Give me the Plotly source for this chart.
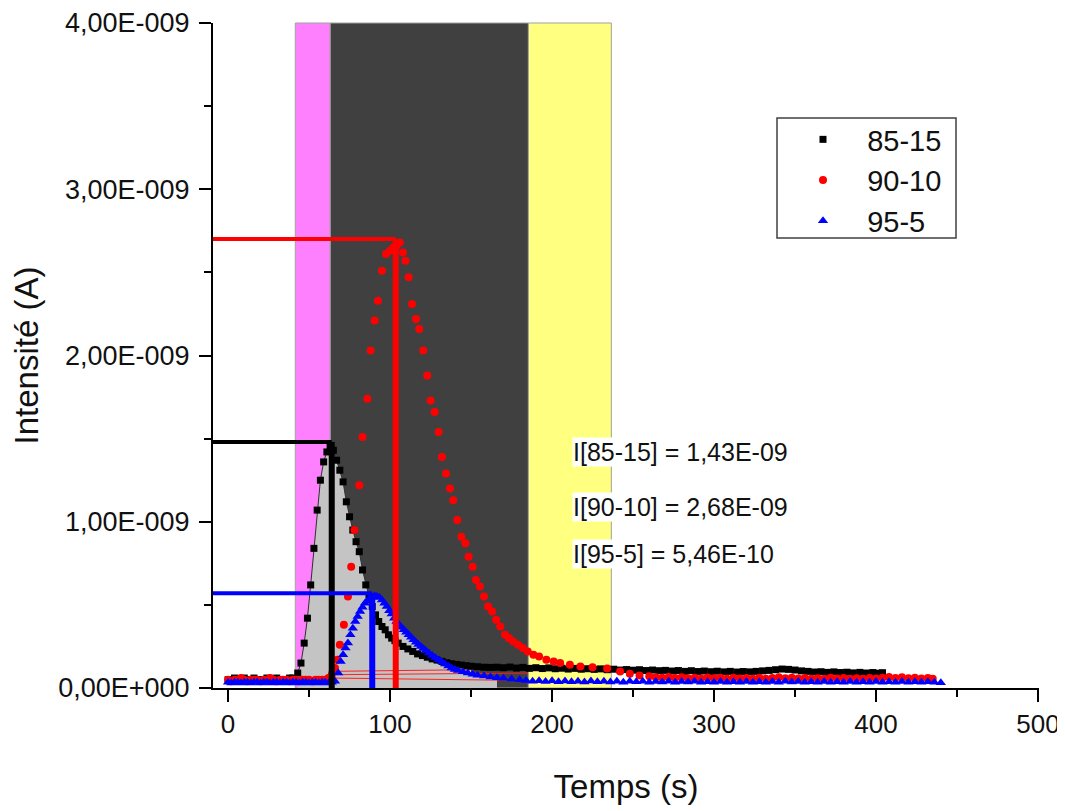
import plotly.graph_objects as go

# ---------------- data (current in units of 1E-9 A, time in s) ----------------
black_pts = [
    (0, .05), (2, .05), (4, .06), (6, .05), (8, .05), (10, .06), (12, .05), (14, .05), (16, .06), (18, .05),
    (20, .05), (22, .05), (24, .06), (26, .05), (28, .05), (30, .06), (32, .05), (34, .05), (36, .05), (38, .06),
    (40, .06), (43, .09), (45, .15), (47, .27), (49, .42), (51, .62), (53, .84), (55, 1.07), (57, 1.25), (59, 1.36),
    (61, 1.42), (63, 1.45), (65, 1.43), (67, 1.37), (69, 1.31), (71, 1.24), (73, 1.12), (75, 1.03), (77, .95), (79, .88),
    (81, .82), (83, .71), (85, .62), (87, .55), (89, .49), (91, .44), (93, .40), (95, .37), (97, .35), (99, .32),
    (101, .30), (103, .285), (105, .27), (108, .25), (111, .235), (114, .22), (117, .205), (120, .195), (123, .185),
    (126, .175), (129, .168), (132, .16), (135, .152), (138, .146), (141, .142), (144, .138), (147, .134), (150, .131),
    (154, .128), (158, .125), (162, .124), (166, .125), (170, .122), (174, .126), (178, .12), (182, .124), (186, .118),
    (190, .122), (194, .117), (198, .121), (202, .116), (206, .119), (210, .114), (214, .118), (218, .113), (222, .116),
    (226, .112), (230, .115), (234, .11), (238, .113), (242, .108), (246, .111), (250, .107), (254, .11), (258, .105),
    (262, .108), (266, .104), (270, .106), (274, .102), (278, .105), (282, .1), (286, .104), (290, .099), (294, .102),
    (298, .098), (302, .101), (306, .097), (310, .1), (314, .096), (318, .099), (322, .097), (326, .1), (330, .103),
    (334, .106), (338, .11), (342, .114), (346, .112), (350, .108), (354, .103), (358, .1), (362, .096), (366, .098),
    (370, .094), (374, .097), (378, .093), (382, .095), (386, .091), (390, .094), (394, .09), (398, .093), (402, .089),
    (404, .092),
]

red_pts = [
    (0, .05), (2, .04), (4, .05), (6, .05), (8, .06), (10, .05), (12, .04), (14, .05), (16, .05), (18, .05),
    (20, .04), (22, .05), (24, .05), (26, .06), (28, .05), (30, .04), (32, .05), (34, .05), (36, .05), (38, .04),
    (40, .05), (42, .05), (44, .04), (46, .05), (48, .05), (50, .05), (52, .04), (54, .05), (56, .05), (58, .05),
    (60, .05), (62, .06), (64, .08), (66, .12), (67.5, .17), (69, .26), (71.5, .38), (74, .55), (76, .73), (78, .95),
    (81, 1.22), (83, 1.51), (86, 1.74), (88, 2.03), (90.5, 2.21), (92.5, 2.33), (95, 2.51), (97.5, 2.61), (100, 2.63),
    (102, 2.65), (104, 2.66), (106, 2.68), (108, 2.62), (109.5, 2.57), (111.5, 2.47), (113.5, 2.31), (116, 2.22),
    (118, 2.16), (120.5, 2.03), (123, 1.88), (125, 1.73), (127.5, 1.66), (130, 1.54), (132, 1.39), (134.5, 1.29),
    (137, 1.20), (139, 1.13), (141.5, 1.01), (144, .91), (146.5, .87), (148.5, .79), (151, .73), (153, .65),
    (155.5, .61), (158, .55), (160.5, .49), (163, .46), (165.5, .41), (168, .37), (171, .32), (173.5, .30), (176, .28),
    (179, .26), (182, .24), (185, .22), (188.5, .20), (192, .19), (196.5, .17), (201, .16), (205, .15), (211, .14),
    (217.5, .13), (225, .125), (234, .118), (242, .10), (248, .085), (254, .075), (260, .07), (264, .065), (268, .062),
    (272, .066), (276, .06), (280, .064), (284, .058), (288, .062), (292, .057), (296, .063), (300, .058), (304, .061),
    (308, .056), (312, .062), (316, .057), (320, .06), (324, .055), (328, .061), (332, .056), (336, .06), (340, .064),
    (344, .058), (348, .062), (352, .057), (356, .06), (360, .055), (364, .059), (368, .056), (372, .061), (376, .057),
    (380, .06), (384, .055), (388, .059), (392, .056), (396, .06), (400, .057), (404, .062), (408, .066), (412, .06),
    (416, .064), (420, .058), (424, .062), (428, .057), (432, .06), (435, .055),
]

blue_pts = [
    (0, .035), (2, .03), (4, .035), (6, .035), (8, .03), (10, .035), (12, .035), (14, .03), (16, .035), (18, .035),
    (20, .03), (22, .035), (24, .035), (26, .03), (28, .035), (30, .035), (32, .03), (34, .035), (36, .035), (38, .03),
    (40, .035), (42, .035), (44, .03), (46, .035), (48, .035), (50, .03), (52, .035), (54, .035), (56, .03), (58, .035),
    (60, .035), (62, .03), (64, .035), (66, .04), (68, .09), (69.5, .16), (71, .20), (72.5, .24), (74, .27),
    (75.5, .32), (77, .36), (78.5, .40), (80, .43), (81.5, .46), (83, .485), (84.5, .51), (86, .525), (87.5, .54),
    (89, .548), (90.5, .553), (92, .55), (93.5, .545), (95, .53), (96.5, .51), (98, .49), (99.5, .465), (101, .445),
    (102.5, .42), (104, .40), (105.5, .38), (107, .365), (108.5, .35), (110, .335), (111.5, .32), (113, .305),
    (114.5, .29), (116, .275), (117.5, .262), (119, .25), (120.5, .237), (122, .225), (124, .21), (126, .195),
    (128, .182), (130, .17), (132, .158), (134, .145), (136, .132), (138, .12), (140, .112), (142, .105), (145, .097),
    (148, .09), (151, .083), (154, .077), (158, .072), (162, .066), (166, .062), (170, .058), (175, .054), (180, .05),
    (184, .045), (188, .04), (192, .044), (196, .039), (200, .043), (204, .038), (208, .042), (212, .037), (216, .041),
    (220, .036), (224, .042), (228, .038), (232, .041), (236, .036), (240, .04), (244, .035), (248, .041), (252, .037),
    (256, .04), (260, .035), (264, .039), (268, .036), (272, .04), (276, .035), (280, .039), (284, .036), (288, .04),
    (292, .035), (296, .038), (300, .034), (304, .039), (308, .035), (312, .038), (316, .034), (320, .039), (324, .035),
    (328, .038), (332, .034), (336, .039), (340, .035), (344, .04), (348, .036), (352, .039), (356, .034), (360, .038),
    (364, .035), (368, .039), (372, .034), (376, .038), (380, .035), (384, .039), (388, .034), (392, .038), (396, .035),
    (400, .039), (404, .034), (408, .038), (412, .035), (416, .039), (420, .034), (424, .038), (428, .035), (432, .038),
    (436, .034), (440, .032),
]

series_names = ["85-15", "90-10", "95-5"]
series_colors = ["#000000", "#FF0000", "#0000FF"]
series_symbols = ["square", "circle", "triangle-up"]
series_sizes = [7, 8, 9]

# peak markers (time of the drop line, level of the horizontal line)
peak_time = [64, 103.5, 89]
peak_level = [1.48, 2.70, 0.57]

# integrated area bounds (s)
area_black = (42, 150)
area_blue = (66, 168)

# integration baseline segments (red thin lines)
baseline_t0 = [62, 62, 66]
baseline_i0 = [0.10, 0.06, 0.08]
baseline_t1 = [238, 185, 185]
baseline_i1 = [0.12, 0.045, 0.09]

# shaded time windows (s)
window_start = [41.5, 63.1, 185.4]
window_end = [63.1, 185.4, 236.6]
window_colors = ["#FF80FF", "#404040", "#FFFF80"]

annot_text = ["I[85-15] = 1,43E-09", "I[90-10] = 2,68E-09", "I[95-5] = 5,46E-10"]
annot_level = [1.42, 1.09, 0.805]
annot_time = 212.5

x_ticks = [0, 100, 200, 300, 400, 500]
y_ticks = [0, 1, 2, 3, 4]
y_ticktext = ["0,00E+000", "1,00E-009", "2,00E-009", "3,00E-009", "4,00E-009"]

X_RANGE = [-9.3, 500.6]
FONT = "Arial, 'Liberation Sans', sans-serif"

# plot-area geometry (px); the page renders the figure offset by about OFF px
OFF = 7
W, H = 1065, 811
L, R, T, B = 212 - OFF, W - (1038 - OFF), 22 - OFF, H - (687 - OFF)
PW, PH = W - L - R, H - T - B

fig = go.Figure()

# shaded windows
for s, e, c in zip(window_start, window_end, window_colors):
    fig.add_shape(type="rect", xref="x", yref="paper", x0=s, x1=e, y0=0, y1=1,
                  fillcolor=c, line=dict(color="#A0A0A0", width=1), layer="below")

# grey integrated areas
def subset(pts, lo, hi):
    sel = [p for p in pts if lo <= p[0] <= hi]
    return [p[0] for p in sel], [p[1] for p in sel]

bx, by = subset(black_pts, *area_black)
fig.add_trace(go.Scatter(x=bx, y=by, mode="lines", fill="tozeroy", fillcolor="#C4C4C4",
                         line=dict(color="#303030", width=1), showlegend=False, hoverinfo="skip"))
ux, uy = subset(blue_pts, *area_blue)
fig.add_trace(go.Scatter(x=ux, y=uy, mode="lines", fill="tozeroy", fillcolor="#C4C4C4",
                         line=dict(color="rgba(0,0,0,0)", width=0), showlegend=False, hoverinfo="skip"))

# red baseline lines
for t0, i0, t1, i1 in zip(baseline_t0, baseline_i0, baseline_t1, baseline_i1):
    fig.add_trace(go.Scatter(x=[t0, t1], y=[i0, i1], mode="lines",
                             line=dict(color="#FF2020", width=1), showlegend=False, hoverinfo="skip"))

# data series
for pts, name, col, sym, size in zip([black_pts, red_pts, blue_pts], series_names, series_colors,
                                     series_symbols, series_sizes):
    fig.add_trace(go.Scatter(
        x=[p[0] for p in pts], y=[p[1] for p in pts], mode="markers",
        name="\u00a0\u00a0\u00a0" + name,
        marker=dict(symbol=sym, size=size, color=col, line=dict(width=0)),
        cliponaxis=False,
    ))

# drop lines
for t, lvl, col in zip(peak_time, peak_level, series_colors):
    fig.add_trace(go.Scatter(x=[X_RANGE[0], t], y=[lvl, lvl], mode="lines",
                             line=dict(color=col, width=4), showlegend=False, hoverinfo="skip"))
    fig.add_trace(go.Scatter(x=[t, t], y=[0, lvl], mode="lines",
                             line=dict(color=col, width=6), showlegend=False, hoverinfo="skip"))

# annotations
for txt, lvl in zip(annot_text, annot_level):
    fig.add_annotation(x=annot_time, y=lvl, xref="x", yref="y", text=txt, showarrow=False,
                       xanchor="left", yanchor="middle", bgcolor="white",
                       font=dict(family=FONT, size=25, color="#111111"), borderpad=0)

# legend frame, given in screen px of the reference
def px_x(px):
    return (px - OFF - L) / PW

def px_y(py):
    return (H - B - (py - OFF)) / PH

fig.add_shape(type="rect", xref="paper", yref="paper",
              x0=px_x(776), x1=px_x(955), y0=px_y(237), y1=px_y(117),
              line=dict(color="#404040", width=1.5), fillcolor="white", layer="below")

axis_common = dict(showline=True, linecolor="black", linewidth=2, ticks="outside", ticklen=12,
                   tickwidth=2, tickcolor="black", showgrid=False, zeroline=False,
                   ticklabeloverflow="allow")

fig.update_layout(
    width=W, height=H,
    margin=dict(l=L, r=R, t=T, b=B, autoexpand=False),
    paper_bgcolor="white", plot_bgcolor="white",
    font=dict(family=FONT, color="#111111"),
    xaxis=dict(range=X_RANGE, tickvals=x_ticks,
               tickfont=dict(family=FONT, size=26, color="#111111"),
               minor=dict(tickvals=[50, 150, 250, 350, 450], ticklen=7, tickwidth=2, tickcolor="black", ticks="outside"),
               title=dict(text="Temps (s)", font=dict(family=FONT, size=33), standoff=37),
               **axis_common),
    yaxis=dict(range=[0, 4], tickvals=y_ticks, ticktext=y_ticktext,
               tickfont=dict(family=FONT, size=27, color="#111111"), ticklabelstandoff=4,
               minor=dict(tickvals=[0.5, 1.5, 2.5, 3.5], ticklen=7, tickwidth=2, tickcolor="black", ticks="outside"),
               title=dict(text="Intensité (A)", font=dict(family=FONT, size=33), standoff=18),
               **axis_common),
    legend=dict(x=px_x(802), y=px_y(113), xanchor="left", yanchor="top",
                bgcolor="rgba(0,0,0,0)", borderwidth=0, font=dict(family=FONT, size=29, color="#111111"),
                tracegroupgap=0, itemsizing="trace"),
)

fig.write_html("out.html")
